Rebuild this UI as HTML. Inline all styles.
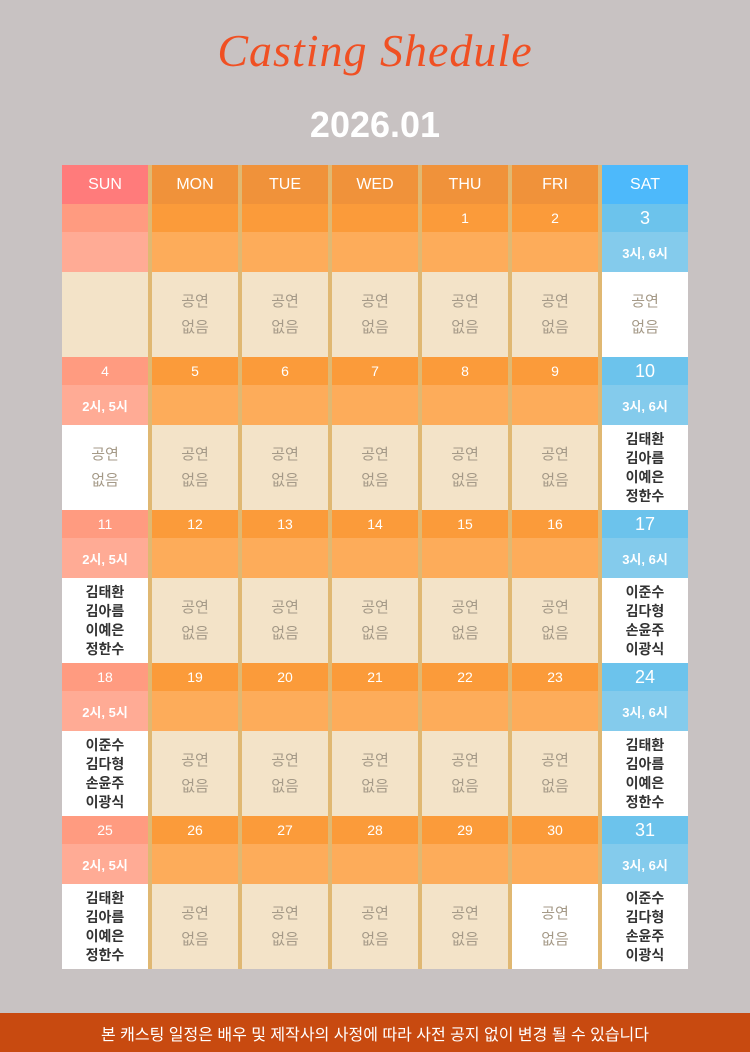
<!DOCTYPE html>
<html><head><meta charset="utf-8"><style>
*{margin:0;padding:0;box-sizing:border-box}
body{width:750px;height:1052px;background:#c8c2c2;position:relative;overflow:hidden;font-family:"Liberation Sans","Noto Sans CJK KR",sans-serif}
.title{position:absolute;left:0;width:750px;top:24px;text-align:center;font-family:"Liberation Serif",serif;font-style:italic;font-size:46px;color:#f05023;letter-spacing:1px}
.ym{position:absolute;left:0;width:750px;top:104px;text-align:center;font-size:36px;font-weight:bold;color:#fff}
.grid{position:absolute;left:62px;top:165px;width:626px;display:grid;grid-template-columns:repeat(7,86px);column-gap:4px;background:#e0b872;grid-template-rows:39px repeat(5,28px 40px 85px)}
.grid div{display:flex;align-items:center;justify-content:center;text-align:center;color:#fff}
.h{font-size:16px}
.d{font-size:14px}
.t{font-size:13px;font-weight:bold}
.c{font-size:15px;line-height:26px;color:#a59a88!important;background:#f3e3c8}
.w{background:#fff}
.n{color:#333!important;font-weight:bold;font-size:14px;line-height:19px}
.s0{background:#ff7b7b}.s1{background:#ff9b80}.s2{background:#ffab95}
.m0{background:#f0923a}.m1{background:#fb9b3a}.m2{background:#fdac5a}
.a0{background:#4db9fb}.a1{background:#6cc3ec;font-size:18px!important}.a2{background:#84cbec}
.foot{position:absolute;left:0;top:1013px;width:750px;height:39px;background:#c84a10;color:#fff;font-size:16px;display:flex;align-items:center;justify-content:center}
</style></head><body>
<div class="title">Casting Shedule</div>
<div class="ym">2026.01</div>
<div class="grid">
<div class="h s0">SUN</div><div class="h m0">MON</div><div class="h m0">TUE</div><div class="h m0">WED</div><div class="h m0">THU</div><div class="h m0">FRI</div><div class="h a0">SAT</div>

<div class="d s1"></div><div class="d m1"></div><div class="d m1"></div><div class="d m1"></div><div class="d m1">1</div><div class="d m1">2</div><div class="d a1">3</div>
<div class="t s2"></div><div class="t m2"></div><div class="t m2"></div><div class="t m2"></div><div class="t m2"></div><div class="t m2"></div><div class="t a2">3시, 6시</div>
<div class="c"></div><div class="c">공연<br>없음</div><div class="c">공연<br>없음</div><div class="c">공연<br>없음</div><div class="c">공연<br>없음</div><div class="c">공연<br>없음</div><div class="c w">공연<br>없음</div>

<div class="d s1">4</div><div class="d m1">5</div><div class="d m1">6</div><div class="d m1">7</div><div class="d m1">8</div><div class="d m1">9</div><div class="d a1">10</div>
<div class="t s2">2시, 5시</div><div class="t m2"></div><div class="t m2"></div><div class="t m2"></div><div class="t m2"></div><div class="t m2"></div><div class="t a2">3시, 6시</div>
<div class="c w">공연<br>없음</div><div class="c">공연<br>없음</div><div class="c">공연<br>없음</div><div class="c">공연<br>없음</div><div class="c">공연<br>없음</div><div class="c">공연<br>없음</div><div class="c w n">김태환<br>김아름<br>이예은<br>정한수</div>

<div class="d s1">11</div><div class="d m1">12</div><div class="d m1">13</div><div class="d m1">14</div><div class="d m1">15</div><div class="d m1">16</div><div class="d a1">17</div>
<div class="t s2">2시, 5시</div><div class="t m2"></div><div class="t m2"></div><div class="t m2"></div><div class="t m2"></div><div class="t m2"></div><div class="t a2">3시, 6시</div>
<div class="c w n">김태환<br>김아름<br>이예은<br>정한수</div><div class="c">공연<br>없음</div><div class="c">공연<br>없음</div><div class="c">공연<br>없음</div><div class="c">공연<br>없음</div><div class="c">공연<br>없음</div><div class="c w n">이준수<br>김다형<br>손윤주<br>이광식</div>

<div class="d s1">18</div><div class="d m1">19</div><div class="d m1">20</div><div class="d m1">21</div><div class="d m1">22</div><div class="d m1">23</div><div class="d a1">24</div>
<div class="t s2">2시, 5시</div><div class="t m2"></div><div class="t m2"></div><div class="t m2"></div><div class="t m2"></div><div class="t m2"></div><div class="t a2">3시, 6시</div>
<div class="c w n">이준수<br>김다형<br>손윤주<br>이광식</div><div class="c">공연<br>없음</div><div class="c">공연<br>없음</div><div class="c">공연<br>없음</div><div class="c">공연<br>없음</div><div class="c">공연<br>없음</div><div class="c w n">김태환<br>김아름<br>이예은<br>정한수</div>

<div class="d s1">25</div><div class="d m1">26</div><div class="d m1">27</div><div class="d m1">28</div><div class="d m1">29</div><div class="d m1">30</div><div class="d a1">31</div>
<div class="t s2">2시, 5시</div><div class="t m2"></div><div class="t m2"></div><div class="t m2"></div><div class="t m2"></div><div class="t m2"></div><div class="t a2">3시, 6시</div>
<div class="c w n">김태환<br>김아름<br>이예은<br>정한수</div><div class="c">공연<br>없음</div><div class="c">공연<br>없음</div><div class="c">공연<br>없음</div><div class="c">공연<br>없음</div><div class="c w">공연<br>없음</div><div class="c w n">이준수<br>김다형<br>손윤주<br>이광식</div>
</div>
<div class="foot">본 캐스팅 일정은 배우 및 제작사의 사정에 따라 사전 공지 없이 변경 될 수 있습니다</div>
</body></html>
